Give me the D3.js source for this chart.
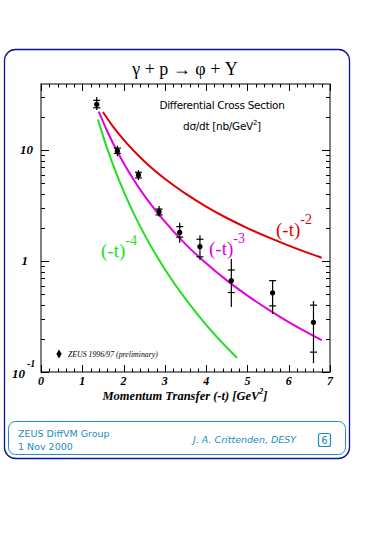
<!DOCTYPE html>
<html><head><meta charset="utf-8">
<script src="https://cdn.jsdelivr.net/npm/d3@7"></script>
<style>body{margin:0;background:#fff}svg{display:block}</style>
</head><body>
<svg id="c" width="365" height="535"></svg>
<script>
// ---- data ----
const tData    = [1.35, 1.85, 2.36, 2.86, 3.36, 3.85, 4.61, 5.61, 6.60];
const sigma    = [25.8, 9.8, 5.96, 2.78, 1.81, 1.35, 0.665, 0.517, 0.28];
const statLow  = [24.0, 9.3, 5.6, 2.60, 1.64, 1.09, 0.52, 0.394, 0.151];
const statHigh = [28.0, 10.4, 6.3, 2.94, 2.04, 1.57, 0.83, 0.665, 0.40];
const totLow   = [22.9, 8.8, 5.37, 2.51, 1.46, 1.02, 0.386, 0.333, 0.12];
const totHigh  = [30.0, 10.9, 6.6, 3.13, 2.21, 1.71, 1.04, 0.665, 0.436];

const tRed   = [1.5, 1.75, 2, 2.5, 3, 3.5, 4, 4.5, 5, 5.5, 6, 6.5, 6.8];
const vRed   = [22.0, 16.16, 12.38, 7.92, 5.5, 4.04, 3.09, 2.44, 1.98, 1.64, 1.375, 1.17, 1.07];
const tMag   = [1.4, 1.6, 1.75, 2, 2.25, 2.5, 3, 3.5, 4, 4.5, 5, 5.5, 6, 6.5, 6.8];
const vMag   = [22.2, 14.9, 11.38, 7.63, 5.36, 3.90, 2.26, 1.42, 0.953, 0.669, 0.488, 0.367, 0.282, 0.222, 0.194];
const tGrn   = [1.38, 1.5, 1.6, 1.75, 2, 2.25, 2.5, 3, 3.5, 4, 4.5, 4.75];
const vGrn   = [18.8, 13.47, 10.4, 7.27, 4.26, 2.66, 1.746, 0.842, 0.455, 0.266, 0.166, 0.134];

const xTicks = [0, 1, 2, 3, 4, 5, 6, 7];

// ---- layout ----
const svg = d3.select("#c");
const L = 41, R = 330, T = 84, B = 372;
const x = d3.scaleLinear().domain([0, 7]).range([L, R]);
const y = d3.scaleLog().domain([0.1, 39.3]).range([B, T]);

// outer frame
svg.append("rect").attr("x", 4.5).attr("y", 49.5).attr("width", 345).attr("height", 409)
  .attr("rx", 11).attr("fill", "none").attr("stroke", "#1010a0").attr("stroke-width", 1.3);
// footer frame
svg.append("rect").attr("x", 8.5).attr("y", 421.5).attr("width", 337).attr("height", 33)
  .attr("rx", 7).attr("fill", "none").attr("stroke", "#2090c0").attr("stroke-width", 1);

const teal = "#1a8cc0";
svg.append("text").attr("x", 18).attr("y", 437).attr("fill", teal)
  .attr("font-family", "DejaVu Sans").attr("font-size", 9.5).text("ZEUS DiffVM Group");
svg.append("text").attr("x", 18).attr("y", 450).attr("fill", teal)
  .attr("font-family", "DejaVu Sans").attr("font-size", 9.5).text("1 Nov 2000");
svg.append("text").attr("x", 193).attr("y", 443).attr("fill", teal)
  .attr("font-family", "DejaVu Sans").attr("font-style", "italic").attr("font-size", 9.5)
  .text("J. A. Crittenden, DESY");
svg.append("rect").attr("x", 318.5).attr("y", 433.5).attr("width", 12).attr("height", 13)
  .attr("rx", 2).attr("fill", "none").attr("stroke", teal).attr("stroke-width", 1.2);
svg.append("text").attr("x", 324.5).attr("y", 444).attr("text-anchor", "middle").attr("fill", teal)
  .attr("font-family", "DejaVu Sans").attr("font-size", 10).text("6");

// title
svg.append("text").attr("x", 185).attr("y", 75).attr("text-anchor", "middle")
  .attr("font-family", "Liberation Serif").attr("font-size", 18)
  .text("γ + p → φ + Y");

// plot frame
svg.append("rect").attr("x", L).attr("y", T).attr("width", R - L).attr("height", B - T)
  .attr("fill", "none").attr("stroke", "#000").attr("stroke-width", 1);

const ax = svg.append("g").attr("stroke", "#000").attr("stroke-width", 1);
// x ticks (major + minor every 0.2), bottom & top, inward
d3.range(0, 7.0001, 0.2).forEach(v => {
  const major = Math.abs(v - Math.round(v)) < 1e-6;
  const len = major ? 7 : 3.5;
  const px = Math.round(x(v)) + 0.5;
  ax.append("line").attr("x1", px).attr("x2", px).attr("y1", B).attr("y2", B - len);
  ax.append("line").attr("x1", px).attr("x2", px).attr("y1", T).attr("y2", T + len);
});
// y ticks (log), left & right, inward
const yT = [];
[0.1, 1, 10].forEach(d => { for (let k = 1; k <= 9; k++) { const v = d * k; if (v <= 39.3) yT.push(v); } });
yT.forEach(v => {
  const major = [0.1, 1, 10].some(m => Math.abs(v - m) < 1e-9);
  const len = major ? 8 : 4;
  const py = Math.round(y(v)) + 0.5;
  ax.append("line").attr("x1", L).attr("x2", L + len).attr("y1", py).attr("y2", py);
  ax.append("line").attr("x1", R).attr("x2", R - len).attr("y1", py).attr("y2", py);
});

// x tick labels
const lblFont = "Liberation Serif";
xTicks.forEach(v => {
  svg.append("text").attr("x", x(v)).attr("y", 385).attr("text-anchor", "middle")
    .attr("font-family", lblFont).attr("font-weight", "bold").attr("font-style", "italic")
    .attr("font-size", 12).text(v);
});
// y tick labels
svg.append("text").attr("x", 33).attr("y", y(10) + 4).attr("text-anchor", "end")
  .attr("font-family", lblFont).attr("font-weight", "bold").attr("font-style", "italic")
  .attr("font-size", 13).text("10");
svg.append("text").attr("x", 28).attr("y", y(1) + 4).attr("text-anchor", "end")
  .attr("font-family", lblFont).attr("font-weight", "bold").attr("font-style", "italic")
  .attr("font-size", 13).text("1");
svg.append("text").attr("x", 25).attr("y", y(0.1) + 6).attr("text-anchor", "end")
  .attr("font-family", lblFont).attr("font-weight", "bold").attr("font-style", "italic")
  .attr("font-size", 13).text("10");
svg.append("text").attr("x", 27).attr("y", y(0.1) - 5)
  .attr("font-family", lblFont).attr("font-weight", "bold").attr("font-style", "italic")
  .attr("font-size", 10).text("-1");

// x axis title
const xt = svg.append("text").attr("x", 185).attr("y", 400).attr("text-anchor", "middle")
  .attr("font-family", lblFont).attr("font-weight", "bold").attr("font-style", "italic")
  .attr("font-size", 12.5);
xt.append("tspan").text("Momentum Transfer (-t) [GeV");
xt.append("tspan").attr("font-size", 8).attr("dy", -6).text("2");
xt.append("tspan").attr("dy", 6).text("]");

// annotation text
svg.append("text").attr("x", 222).attr("y", 109).attr("text-anchor", "middle")
  .attr("font-family", "DejaVu Sans").attr("font-size", 10.5).attr("letter-spacing", -0.3)
  .text("Differential Cross Section");
const dt = svg.append("text").attr("x", 222).attr("y", 130).attr("text-anchor", "middle")
  .attr("font-family", "DejaVu Sans").attr("font-size", 10.5).attr("letter-spacing", -0.3);
dt.append("tspan").text("dσ/dt [nb/GeV");
dt.append("tspan").attr("font-size", 7).attr("dy", -5).text("2");
dt.append("tspan").attr("dy", 5).text("]");

// curves
const line = (ts, vs) => d3.line().curve(d3.curveMonotoneX)
  .x((d, i) => x(ts[i])).y((d, i) => y(vs[i]))(vs);
svg.append("path").attr("d", line(tRed, vRed)).attr("fill", "none").attr("stroke", "#e00000").attr("stroke-width", 2);
svg.append("path").attr("d", line(tMag, vMag)).attr("fill", "none").attr("stroke", "#e000e0").attr("stroke-width", 2);
svg.append("path").attr("d", line(tGrn, vGrn)).attr("fill", "none").attr("stroke", "#20e020").attr("stroke-width", 2);

// curve labels
function powLabel(xp, yp, col, exp) {
  const t = svg.append("text").attr("x", xp).attr("y", yp).attr("fill", col)
    .attr("font-family", "Liberation Serif").attr("font-size", 19);
  t.append("tspan").text("(-t)");
  t.append("tspan").attr("font-size", 14).attr("dy", -12).text(exp);
}
powLabel(276, 236, "#e00000", "-2");
powLabel(209, 255, "#e000e0", "-3");
powLabel(101, 257, "#20e020", "-4");

// data points with error bars
const eg = svg.append("g").attr("stroke", "#000").attr("stroke-width", 1.2);
tData.forEach((t, i) => {
  const px = x(t);
  eg.append("line").attr("x1", px).attr("x2", px).attr("y1", y(totLow[i])).attr("y2", y(totHigh[i]));
  [statLow[i], statHigh[i]].forEach(v => {
    eg.append("line").attr("x1", px - 3.5).attr("x2", px + 3.5).attr("y1", y(v)).attr("y2", y(v));
  });
  svg.append("circle").attr("cx", px).attr("cy", y(sigma[i])).attr("r", 2.6).attr("fill", "#000");
});

// legend
svg.append("path").attr("d", d3.symbol(d3.symbolDiamond, 24)())
  .attr("transform", `translate(59,354)`).attr("fill", "#000");
svg.append("text").attr("x", 68).attr("y", 356.5)
  .attr("font-family", "Liberation Serif").attr("font-style", "italic").attr("font-size", 7.8)
  .text("ZEUS 1996/97 (preliminary)");
</script>
</body></html>
